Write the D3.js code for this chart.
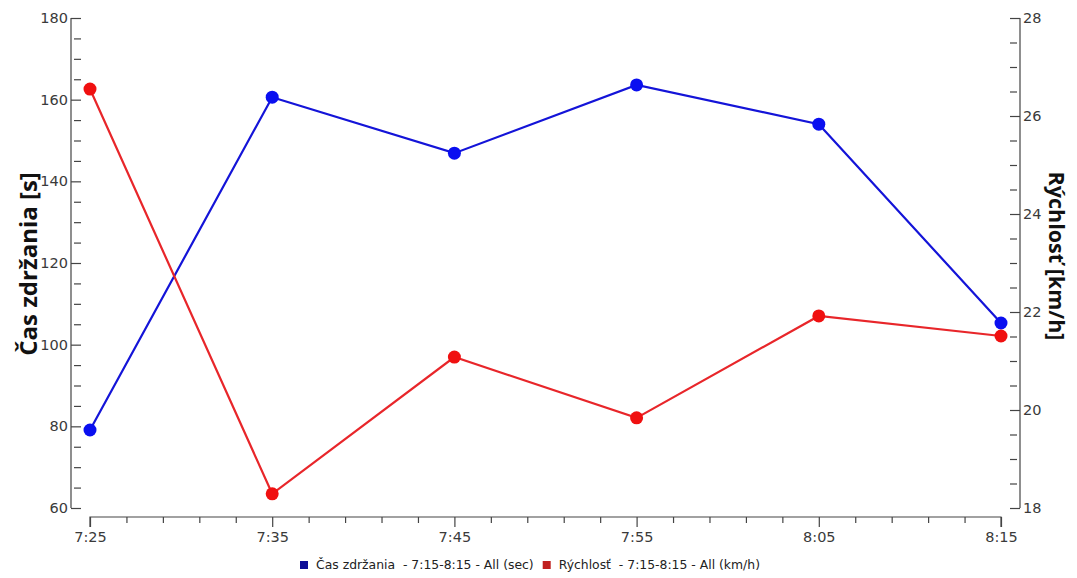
<!DOCTYPE html>
<html><head><meta charset="utf-8">
<script src="https://cdn.jsdelivr.net/npm/d3@7"></script>
<style>
body{margin:0;background:#fff;}
text{font-family:"Open Sans","DejaVu Sans",sans-serif;}
</style></head>
<body><svg id="c" width="1077" height="578"></svg>
<script>
const times = ["7:25","7:35","7:45","7:55","8:05","8:15"];
const delaySec = [79.1, 160.6, 146.9, 163.6, 154.0, 105.3];
const speedKmh = [26.55, 18.29, 21.08, 19.84, 21.92, 21.51];
const leftTicks = [60,80,100,120,140,160,180];
const rightTicks = [18,20,22,24,26,28];
const seriesNames = ["Čas zdržania  - 7:15-8:15 - All (sec)", "Rýchlosť  - 7:15-8:15 - All (km/h)"];

const toMin = s => { const [h,m] = s.split(":").map(Number); return h*60+m; };
const svg = d3.select("#c");
const x = d3.scaleLinear().domain([toMin(times[0]), toMin(times[times.length-1])]).range([90,1001]);
const yL = d3.scaleLinear().domain([60,180]).range([508,18]);
const yR = d3.scaleLinear().domain([18,28]).range([508,18]);
const axisColor="#444", textColor="#3a3a3a";

const gL = svg.append("g").attr("transform","translate(81,0)");
gL.call(d3.axisLeft(yL).tickValues(d3.range(60,180.1,5)).tickSize(8).tickPadding(5).tickFormat(d=> leftTicks.includes(d)? d : ""));
gL.selectAll(".tick line").attr("x2", d=>leftTicks.includes(d)?-10:-7);
const gR = svg.append("g").attr("transform","translate(1010,0)");
gR.call(d3.axisRight(yR).tickValues(d3.range(18,28.01,0.5)).tickSize(8).tickPadding(5).tickFormat(d=> rightTicks.includes(d)? d : ""));
gR.selectAll(".tick line").attr("x2", d=>rightTicks.includes(d)?10:7);
const majorX = times.map(toMin);
const gX = svg.append("g").attr("transform","translate(0,517)");
gX.call(d3.axisBottom(x).tickValues(d3.range(majorX[0], majorX[majorX.length-1]+0.1, 2)).tickSize(6)
  .tickFormat(d => { const i = majorX.indexOf(d); return i>=0? times[i] : ""; }));
gX.selectAll(".tick line").attr("y2", d=>majorX.includes(d)?10:6);
[gL,gR,gX].forEach(g=>{
  g.attr("font-size",null).attr("font-family",null);
  g.selectAll(".domain").attr("stroke",axisColor).attr("stroke-width",1.2);
  g.selectAll(".tick line").attr("stroke",axisColor).attr("stroke-width",1.2);
  g.selectAll("text").attr("fill",textColor)
    .style("font-family","'DejaVu Sans',sans-serif").style("font-size","14.5px");
});
gL.selectAll(".domain").attr("d","M-10,18V508");
gR.selectAll(".domain").attr("d","M10,18V508");
gX.selectAll(".domain").attr("d","M90,10V0H1001V10");
gX.selectAll("text").attr("dy","1.1em");

const series = [
  {vals: delaySec, y: yL, color:"#1414d8", mark:"#0a0ff0"},
  {vals: speedKmh, y: yR, color:"#e8262a", mark:"#f01010"}
];
series.forEach(s=>{
  const line = d3.line().x((d,i)=>x(toMin(times[i]))).y(d=>s.y(d));
  svg.append("path").datum(s.vals).attr("d",line).attr("fill","none").attr("stroke",s.color).attr("stroke-width",2.2);
  svg.selectAll(null).data(s.vals).enter().append("circle")
    .attr("cx",(d,i)=>x(toMin(times[i]))).attr("cy",d=>s.y(d)).attr("r",6.5).attr("fill",s.mark);
});

svg.append("text").attr("transform","translate(37,264) rotate(-90)").attr("text-anchor","middle")
  .style("font-size","24px").style("font-weight","700").attr("fill","#111").text("Čas zdržania [s]");
svg.append("text").attr("transform","translate(1049,256) rotate(90)").attr("text-anchor","middle")
  .style("font-size","21.5px").style("font-weight","700").attr("fill","#111").text("Rýchlosť [km/h]");

const leg = svg.append("g");
const legColors = ["#0d0d96","#c02020"];
let lx = 300;
seriesNames.forEach((n,i)=>{
  leg.append("rect").attr("x",lx).attr("y",561).attr("width",8).attr("height",8).attr("fill",legColors[i]);
  const t = leg.append("text").attr("x",lx+16).attr("y",569).attr("xml:space","preserve").style("white-space","pre")
    .style("font-family","'DejaVu Sans',sans-serif").style("font-size","12.4px").attr("fill","#222").text(n);
  lx = lx + 16 + t.node().getComputedTextLength() + 9;
});
</script></body></html>
